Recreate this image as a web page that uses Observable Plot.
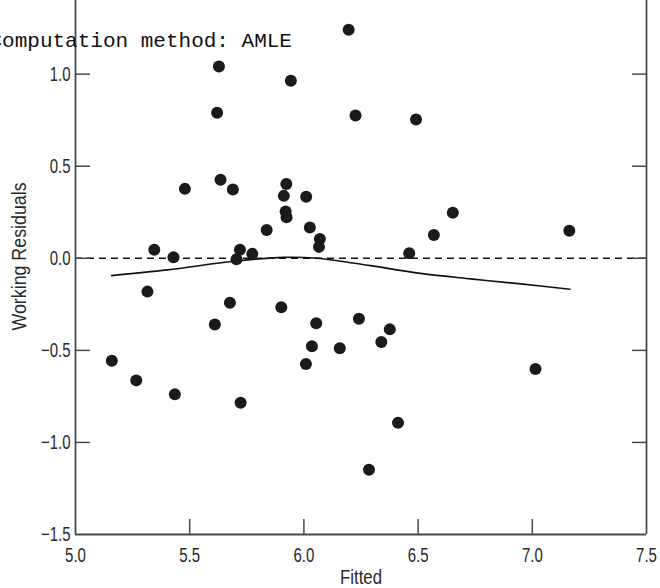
<!DOCTYPE html>
<html>
<head>
<meta charset="utf-8">
<script src="https://cdn.jsdelivr.net/npm/d3@7"></script>
<script src="https://cdn.jsdelivr.net/npm/@observablehq/plot@0.6"></script>
<style>
  html, body { margin: 0; padding: 0; background: #fff; overflow: hidden; }
  #chart svg { display: block; overflow: visible; }
</style>
</head>
<body>
<div id="chart"></div>
<script>
// Observed points: fitted values and working residuals
const fitted = [
  5.628, 5.620, 5.943, 5.479, 5.635, 5.689, 5.923, 5.912, 6.010, 5.920,
  5.924, 6.026, 5.837, 6.070, 6.066, 5.345, 5.429, 5.720, 5.774, 5.705,
  6.196, 6.226, 6.491, 6.652, 6.569, 6.461, 7.162,
  5.315, 5.676, 5.610, 5.901, 6.054, 6.035, 6.009, 5.159, 5.266, 5.435, 5.723,
  6.241, 6.376, 6.339, 6.157, 7.014, 6.412, 6.285
];
const residuals = [
  1.042, 0.790, 0.964, 0.377, 0.426, 0.373, 0.404, 0.339, 0.334, 0.254,
  0.223, 0.167, 0.154, 0.105, 0.062, 0.047, 0.005, 0.047, 0.024, -0.005,
  1.241, 0.776, 0.754, 0.247, 0.127, 0.027, 0.150,
  -0.181, -0.241, -0.360, -0.266, -0.353, -0.478, -0.574, -0.556, -0.663, -0.739, -0.784,
  -0.328, -0.386, -0.455, -0.489, -0.601, -0.893, -1.148
];
// Smoothed (lowess) curve
const smoothX = [5.158, 5.402, 5.693, 5.912, 6.044, 6.161, 6.292, 6.511, 6.730, 6.949, 7.165];
const smoothY = [-0.094, -0.063, -0.016, 0.005, 0.002, -0.016, -0.040, -0.082, -0.112, -0.139, -0.168];

const xTicks = [5.0, 5.5, 6.0, 6.5, 7.0, 7.5];
const xInnerTicks = [5.5, 6.0, 6.5, 7.0];
const yTicks = [-1.5, -1.0, -0.5, 0.0, 0.5, 1.0];
const yInnerTicks = [-1.0, -0.5, 0.0, 0.5, 1.0];
const xDomain = [5.0, 7.5];
const yDomain = [-1.5, 1.4];

const note = "Computation method: AMLE";
const xLabel = "Fitted";
const yLabel = "Working Residuals";

const points = fitted.map((f, i) => ({f, r: residuals[i]}));
const smooth = smoothX.map((x, i) => ({x, y: smoothY[i]}));

const sans = "'Liberation Sans', Arimo, Arial, sans-serif";
const axisColor = "#4a4a4a";
const textColor = "#2a2a2a";
const fmt = d3.format(".1f");

const chart = Plot.plot({
  width: 660,
  height: 588,
  marginLeft: 75,
  marginRight: 14,
  marginTop: 0,
  marginBottom: 54,
  style: {fontFamily: sans, fontSize: "20px", color: textColor, background: "#fff", overflow: "visible"},
  x: {domain: xDomain, axis: null},
  y: {domain: yDomain, axis: null},
  marks: [
    // reference line at zero
    Plot.ruleY([0], {stroke: "#111", strokeWidth: 1.6, strokeDasharray: "7,5"}),
    // smoothed curve
    Plot.line(smooth, {x: "x", y: "y", stroke: "#111", strokeWidth: 1.6, curve: "catmull-rom"}),
    // points
    Plot.dot(points, {x: "f", y: "r", r: 6, fill: "#1a1a1a", stroke: "none"}),
    // frame lines (left, right, bottom)
    Plot.ruleX(xDomain, {stroke: axisColor, strokeWidth: 1.8}),
    Plot.ruleY([yDomain[0]], {stroke: axisColor, strokeWidth: 1.8}),
    // inward tick marks
    Plot.axisX({anchor: "bottom", ticks: xInnerTicks, tickSize: -15, tickFormat: () => "", stroke: axisColor, strokeWidth: 1.5}),
    Plot.axisY({anchor: "left", ticks: yInnerTicks, tickSize: -15, tickFormat: () => "", stroke: axisColor, strokeWidth: 1.5}),
    Plot.axisY({anchor: "right", ticks: yInnerTicks, tickSize: -15, tickFormat: () => "", stroke: axisColor, strokeWidth: 1.5}),
    // tick labels
    Plot.axisX({anchor: "bottom", ticks: xTicks, tickSize: 0, tickPadding: 13, tickFormat: fmt, fill: textColor, fontSize: 20, label: null}),
    Plot.axisY({anchor: "left", ticks: yTicks, tickSize: 0, tickPadding: 5, tickFormat: fmt, fill: textColor, fontSize: 20, label: null}),
    // axis titles
    Plot.text([xLabel], {frameAnchor: "bottom", text: d => d, dy: 49, lineAnchor: "bottom", textAnchor: "middle", fontSize: 20, fill: textColor}),
    Plot.text([yLabel], {frameAnchor: "left", text: d => d, dx: -50, dy: -11, rotate: -90, lineAnchor: "bottom", textAnchor: "middle", fontSize: 20, fill: textColor}),
    // annotation
    Plot.text([note], {frameAnchor: "top-left", text: d => d, dx: -86, dy: 46, lineAnchor: "bottom", textAnchor: "start", fontFamily: "'Liberation Mono', 'Courier New', monospace", fontSize: 21, fill: "#111"})
  ]
});

document.getElementById("chart").appendChild(chart);

// Condense the sans-serif texts to mimic the reference's condensed typeface
const condense = {"Fitted": 0.84, "Working Residuals": 0.89};
chart.querySelectorAll("text").forEach(t => {
  const s = t.textContent;
  if (s === note) return;
  const k = condense[s] ?? 0.75;
  const w = t.getComputedTextLength();
  if (w > 0) {
    t.setAttribute("textLength", (w * k).toFixed(2));
    t.setAttribute("lengthAdjust", "spacingAndGlyphs");
  }
});
</script>
</body>
</html>
